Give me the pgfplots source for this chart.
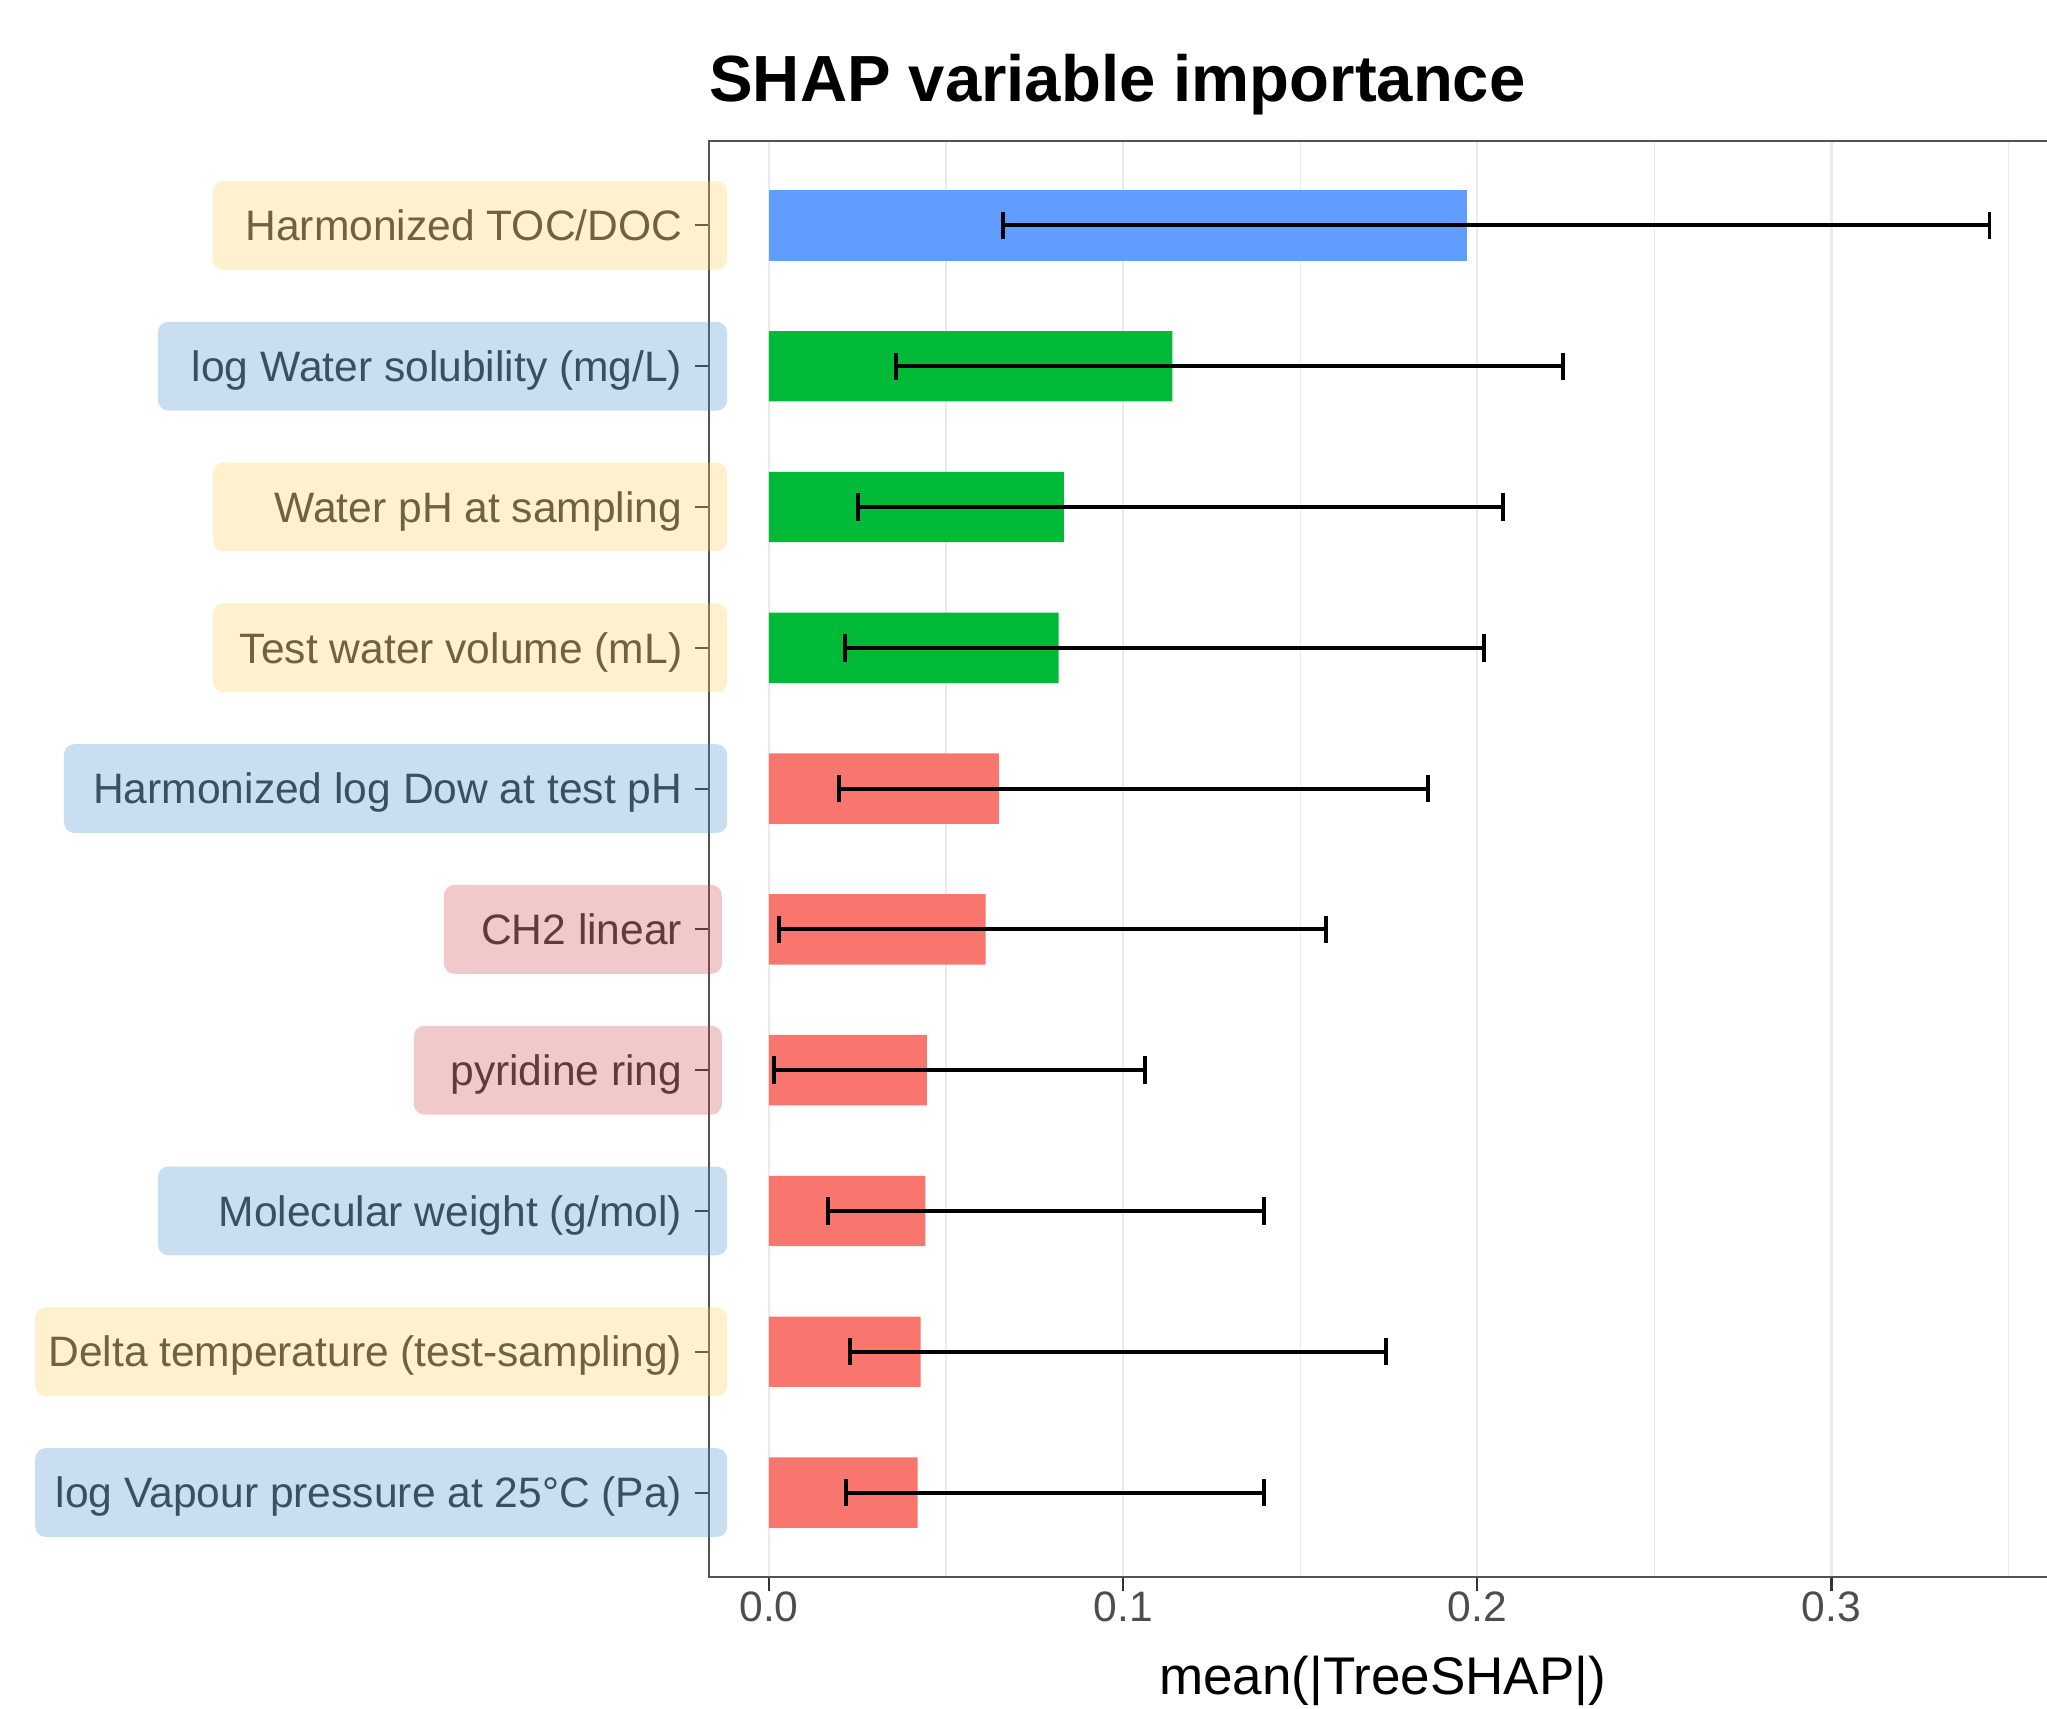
\documentclass[border=0pt]{standalone}
\usepackage{pgfplots}
\pgfplotsset{compat=1.18}
\usepackage{pgfplotstable}
\usepackage{fontspec}
\setmainfont{Liberation Sans}
\definecolor{grey30}{HTML}{4D4D4D}
\definecolor{grey20}{HTML}{333333}
\definecolor{grey92}{HTML}{EBEBEB}
\definecolor{gblue}{HTML}{619CFF}
\definecolor{ggreen}{HTML}{00BA38}
\definecolor{gred}{HTML}{F8766D}
\definecolor{boxY}{RGB}{255,208,92}
\definecolor{boxB}{RGB}{75,145,205}
\definecolor{boxR}{RGB}{212,75,82}

\pgfplotstableread{
y val lo hi
1 0.1972 0.0660 0.3446
}\blueT
\pgfplotstableread{
y val lo hi
2 0.1139 0.0358 0.2241
3 0.0833 0.0251 0.2072
4 0.0818 0.0214 0.2020
}\greenT
\pgfplotstableread{
y val lo hi
5 0.0649 0.0199 0.1861
6 0.0612 0.0029 0.1574
7 0.0446 0.0015 0.1062
8 0.0442 0.0166 0.1397
9 0.0428 0.0229 0.1743
10 0.0420 0.0217 0.1397
}\redT

\newcommand\tickfont{\fontsize{16.3}{19}\selectfont}
\newcommand\lab[5]{%
  \node[anchor=base east, inner sep=0pt, text=grey20, font=\tickfont] at ([xshift=-10pt,yshift=-5.84pt]L#1) {#2};
  \fill[#5, fill opacity=0.3, rounded corners=4pt] ([xshift=#3, yshift=-17pt]L#1) rectangle ([xshift=#4, yshift=17pt]L#1);
}
\pgfplotsset{
  errstyle/.style={
    error bars/.cd, x dir=both, x explicit, error mark=|,
    error bar style={line width=1.5pt, black},
    error mark options={mark size=5.25pt, line width=1.5pt, black}},
}

\begin{document}
\begin{tikzpicture}
\path[use as bounding box] (-271.5pt,-50.5pt) rectangle (512.5pt,604pt);
\begin{axis}[
  at={(0,0)}, anchor=south west,
  scale only axis, width=516pt, height=550pt,
  xmin=-0.01696, xmax=0.36343,
  ymin=0.4, ymax=10.6, y dir=reverse,
  ytick={1,2,3,4,5,6,7,8,9,10}, yticklabels={},
  xtick={0,0.1,0.2,0.3},
  minor xtick={0.05,0.15,0.25,0.35},
  xmajorgrids, xminorgrids,
  major grid style={color=grey92, line width=0.9pt},
  minor grid style={color=grey92, line width=0.45pt},
  tick align=outside, tick pos=left,
  major tick length=5.5pt, minor tick length=0pt,
  tick style={color=grey20, line width=0.8pt},
  axis line style={draw=grey20!85!white, line width=0.8pt},
  /pgf/number format/assume math mode=true,
  xticklabel={\pgfmathprintnumber[fixed, fixed zerofill, precision=1]{\tick}},
  xticklabel style={font=\tickfont, text=grey30, inner sep=0pt, anchor=north},
  clip=false,
]
\addplot[xbar, bar shift=0pt, bar width=0.5, fill=gblue, draw=none, errstyle]
  table[x=val, y=y, x error plus expr=\thisrow{hi}-\thisrow{val}, x error minus expr=\thisrow{val}-\thisrow{lo}] {\blueT};
\addplot[xbar, bar shift=0pt, bar width=0.5, fill=ggreen, draw=none, errstyle]
  table[x=val, y=y, x error plus expr=\thisrow{hi}-\thisrow{val}, x error minus expr=\thisrow{val}-\thisrow{lo}] {\greenT};
\addplot[xbar, bar shift=0pt, bar width=0.5, fill=gred, draw=none, errstyle]
  table[x=val, y=y, x error plus expr=\thisrow{hi}-\thisrow{val}, x error minus expr=\thisrow{val}-\thisrow{lo}] {\redT};
\pgfplotsinvokeforeach{1,...,10}{\coordinate (L#1) at (axis cs:-0.01696,#1);}
\node[anchor=base west, inner sep=0pt, font=\fontsize{25}{30}\selectfont\bfseries] at ([yshift=15pt]rel axis cs:0,1) {SHAP variable importance};
\node[anchor=base, inner sep=0pt, font=\fontsize{20.3}{24}\selectfont] at ([yshift=-45pt]rel axis cs:0.5,0) {mean(|TreeSHAP|)};
\end{axis}
\lab{1}{Harmonized TOC/DOC}{-190pt}{7pt}{boxY}
\lab{2}{log Water solubility (mg/L)}{-211pt}{7pt}{boxB}
\lab{3}{Water pH at sampling}{-190pt}{7pt}{boxY}
\lab{4}{Test water volume (mL)}{-190pt}{7pt}{boxY}
\lab{5}{Harmonized log Dow at test pH}{-247pt}{7pt}{boxB}
\lab{6}{CH2 linear}{-101.5pt}{5pt}{boxR}
\lab{7}{pyridine ring}{-113pt}{5pt}{boxR}
\lab{8}{Molecular weight (g/mol)}{-211pt}{7pt}{boxB}
\lab{9}{Delta temperature (test-sampling)}{-258pt}{7pt}{boxY}
\lab{10}{log Vapour pressure at 25°C (Pa)}{-258pt}{7pt}{boxB}
\end{tikzpicture}
\end{document}
